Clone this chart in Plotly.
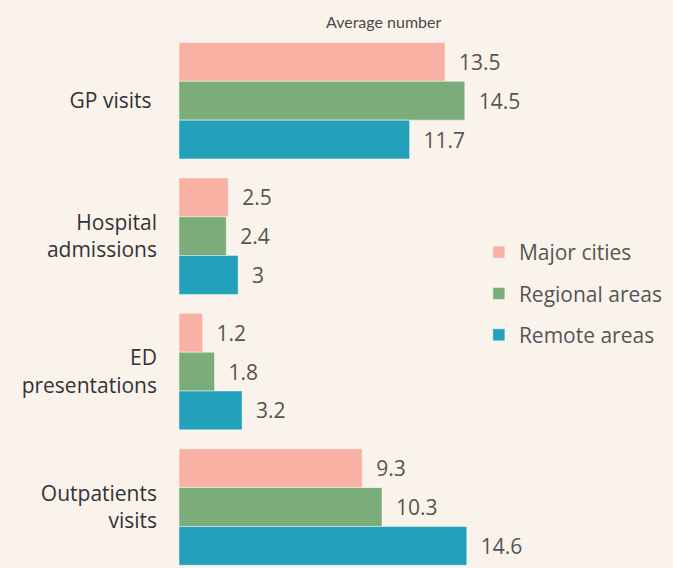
import plotly.graph_objects as go

categories = ["GP visits ", "Hospital<br>admissions", "ED<br>presentations", "Outpatients<br>visits"]
series_names = ["Major cities", "Regional areas", "Remote areas"]
major_cities = [13.5, 2.5, 1.2, 9.3]
regional_areas = [14.5, 2.4, 1.8, 10.3]
remote_areas = [11.7, 3.0, 3.2, 14.6]
colors = ["#F9B1A4", "#7AAD7A", "#23A1BA"]

BG = "#FAF3EC"
FONT = "Open Sans"
FS = 21

fig = go.Figure()
for i, (name, vals) in enumerate(zip(series_names, [major_cities, regional_areas, remote_areas])):
    fig.add_trace(go.Bar(
        y=categories, x=vals, name=name, orientation="h",
        marker=dict(color=colors[i], line=dict(color="rgba(255,255,255,0.45)", width=1)),
        text=["\u00a0\u00a0" + f"{v:g}" for v in vals],
        textposition="outside", constraintext="none", cliponaxis=False,
        textfont=dict(family=FONT, size=FS, color="#555555"),
        legendgroup=name,
    ))

fig.update_layout(
    width=673, height=568,
    paper_bgcolor=BG, plot_bgcolor=BG,
    margin=dict(l=179, r=86, t=33, b=0),
    barmode="group", bargap=0.14, bargroupgap=0,
    showlegend=True,
    legend=dict(x=0.735, y=0.513, xanchor="left", yanchor="middle",
                font=dict(family=FONT, size=FS, color="#555555"),
                bgcolor="rgba(0,0,0,0)", tracegroupgap=11,
                traceorder="grouped"),
    xaxis=dict(range=[0, 20.7], visible=False, fixedrange=True),
    yaxis=dict(range=[3.45, -0.5], showgrid=False, zeroline=False, showline=False,
               ticks="", ticklabelstandoff=21,
               tickfont=dict(family=FONT, size=FS, color="#333333")),
    annotations=[dict(text="Average number", x=0.5, y=1, xref="paper", yref="paper",
                      xanchor="center", yanchor="bottom", yshift=0, showarrow=False,
                      font=dict(family="Lato", size=16, color="#4a4a4a"))],
)

fig.write_html("out.html", config={"displayModeBar": False},
               post_script="document.body.style.margin='0';document.body.style.background='#FAF3EC';document.body.style.overflow='hidden';")
